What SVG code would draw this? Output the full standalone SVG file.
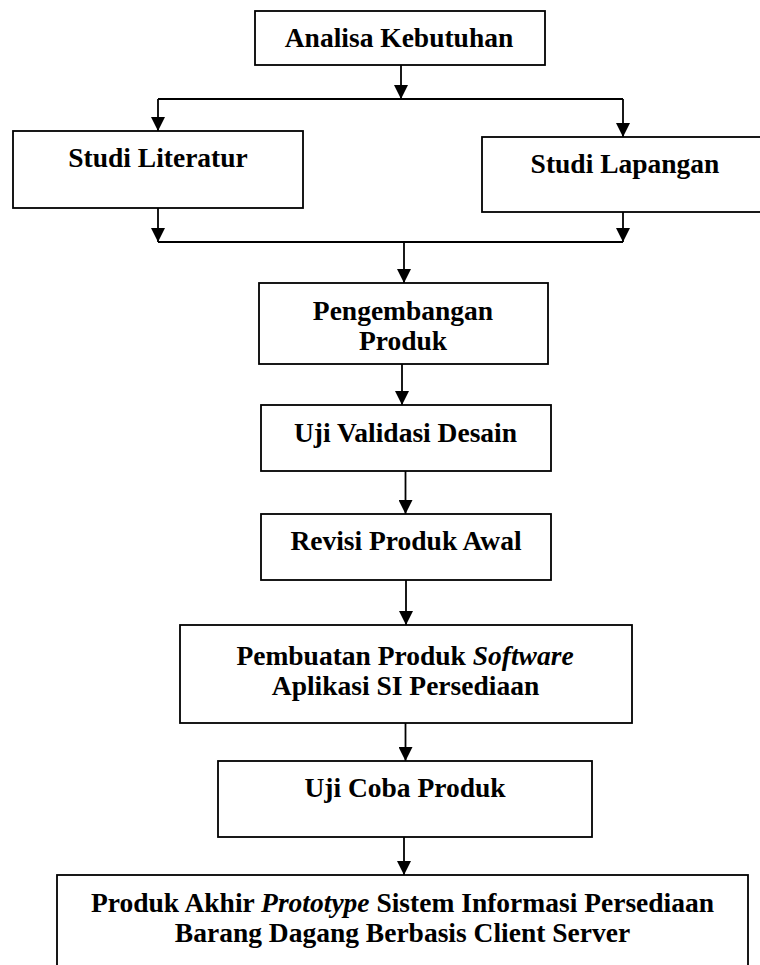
<svg xmlns="http://www.w3.org/2000/svg" width="760" height="965" viewBox="0 0 760 965">
  <style>
    .box { fill: #ffffff; stroke: #000000; stroke-width: 1.8; }
    .lbl { font-family: "Liberation Serif", "Times New Roman", serif; font-size: 27.5px; font-weight: bold; fill: #000000; text-anchor: middle; }
    .it { font-style: italic; }
    .wire { fill: none; stroke: #000000; stroke-width: 1.8; }
    .arrow { fill: none; stroke: #000000; stroke-width: 1.8; marker-end: url(#head); }
  </style>
  <defs>
    <marker id="head" markerUnits="userSpaceOnUse" viewBox="0 0 14 14" refX="14" refY="7" markerWidth="14" markerHeight="14" orient="auto">
      <path d="M0,0 L14,7 L0,14 Z" fill="#000000"/>
    </marker>
  </defs>
  <rect width="760" height="965" fill="#ffffff"/>

  <!-- flow connectors -->
  <g id="connectors">
    <line class="arrow" x1="401" y1="65" x2="401" y2="99"/>
    <line class="wire" x1="158" y1="99" x2="623" y2="99"/>
    <line class="arrow" x1="158" y1="99" x2="158" y2="131"/>
    <line class="arrow" x1="623" y1="99" x2="623" y2="137"/>
    <line class="arrow" x1="158" y1="208" x2="158" y2="242"/>
    <line class="arrow" x1="623" y1="207" x2="623" y2="242"/>
    <line class="wire" x1="158" y1="242" x2="623" y2="242"/>
    <line class="arrow" x1="404" y1="242" x2="404" y2="283"/>
    <line class="arrow" x1="402" y1="364" x2="402" y2="405"/>
    <line class="arrow" x1="405.5" y1="471" x2="405.5" y2="514"/>
    <line class="arrow" x1="406" y1="580" x2="406" y2="625"/>
    <line class="arrow" x1="405.5" y1="718" x2="405.5" y2="761"/>
    <line class="arrow" x1="404" y1="837" x2="404" y2="875"/>
  </g>

  <g id="analisa-kebutuhan">
    <rect class="box" x="255" y="11" width="290" height="54"/>
    <text class="lbl" x="399" y="47">Analisa Kebutuhan</text>
  </g>

  <g id="studi-literatur">
    <rect class="box" x="13" y="131" width="290" height="77"/>
    <text class="lbl" x="158" y="167">Studi Literatur</text>
  </g>

  <g id="studi-lapangan">
    <rect class="box" x="482" y="137" width="290" height="75"/>
    <text class="lbl" x="625" y="173">Studi Lapangan</text>
  </g>

  <g id="pengembangan-produk">
    <rect class="box" x="259" y="283" width="289" height="81"/>
    <text class="lbl" x="403" y="320">Pengembangan</text>
    <text class="lbl" x="403" y="350">Produk</text>
  </g>

  <g id="uji-validasi-desain">
    <rect class="box" x="261" y="405" width="290" height="66"/>
    <text class="lbl" x="405.5" y="442">Uji Validasi Desain</text>
  </g>

  <g id="revisi-produk-awal">
    <rect class="box" x="261" y="514" width="290" height="66"/>
    <text class="lbl" x="406" y="550">Revisi Produk Awal</text>
  </g>

  <g id="pembuatan-produk-software">
    <rect class="box" x="180" y="625" width="452" height="98"/>
    <text class="lbl" x="405" y="665">Pembuatan Produk <tspan class="it">Software</tspan></text>
    <text class="lbl" x="405.5" y="695">Aplikasi SI Persediaan</text>
  </g>

  <g id="uji-coba-produk">
    <rect class="box" x="218" y="761" width="374" height="76"/>
    <text class="lbl" x="405" y="797">Uji Coba Produk</text>
  </g>

  <g id="produk-akhir">
    <rect class="box" x="57" y="875" width="691" height="100"/>
    <text class="lbl" x="402.5" y="912">Produk Akhir <tspan class="it">Prototype</tspan> Sistem Informasi Persediaan</text>
    <text class="lbl" x="402.5" y="942">Barang Dagang Berbasis Client Server</text>
  </g>
</svg>
